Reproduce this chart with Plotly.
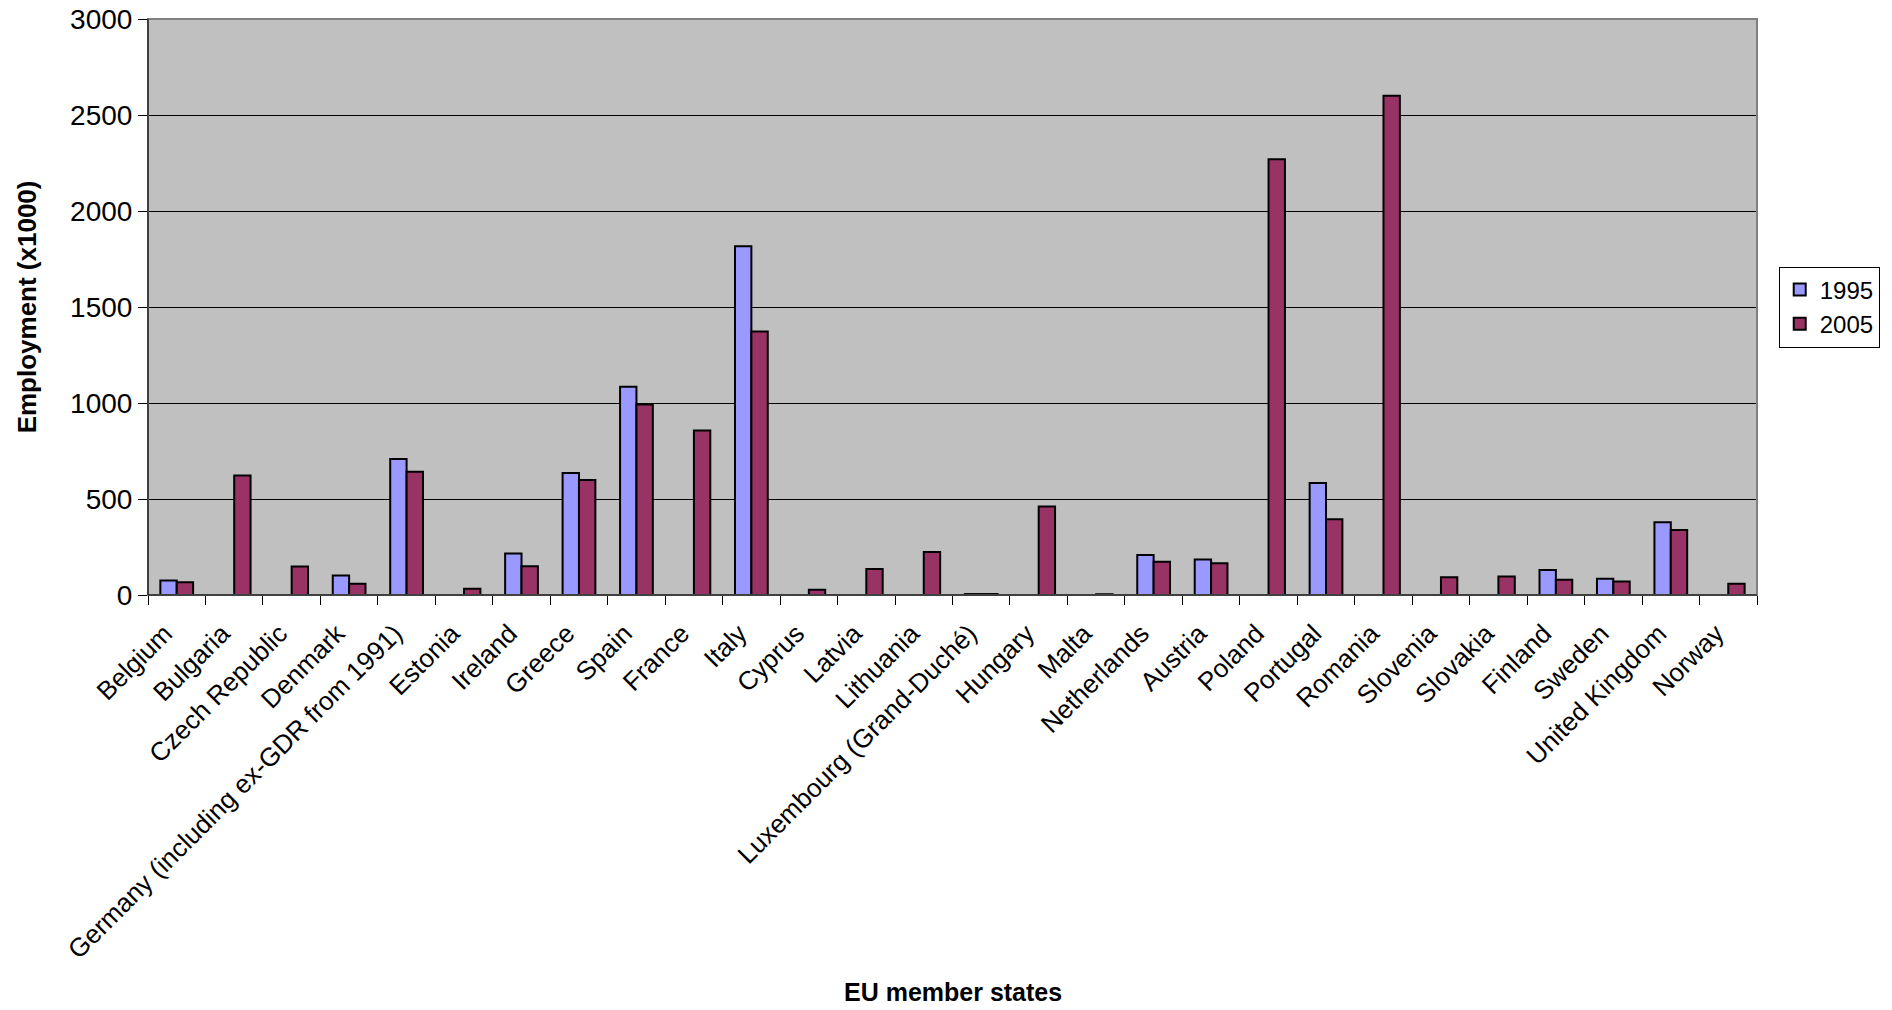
import plotly.graph_objects as go

countries = ["Belgium", "Bulgaria", "Czech Republic", "Denmark",
             "Germany (including ex-GDR from 1991)", "Estonia", "Ireland", "Greece",
             "Spain", "France", "Italy", "Cyprus", "Latvia", "Lithuania",
             "Luxembourg (Grand-Duché)", "Hungary", "Malta", "Netherlands", "Austria",
             "Poland", "Portugal", "Romania", "Slovenia", "Slovakia", "Finland",
             "Sweden", "United Kingdom", "Norway"]

emp_1995 = [76, None, None, 101, 708, None, 216, 636, 1085, None, 1816, None, None, None,
            5, None, None, 208, 185, None, 583, None, None, None, 130, 85, 379, None]
emp_2005 = [66, 622, 148, 58, 642, 33, 150, 599, 992, 857, 1373, 27, 136, 224,
            5, 461, 4, 173, 165, 2269, 395, 2600, 93, 97, 80, 70, 338, 58]

y_ticks = [0, 500, 1000, 1500, 2000, 2500, 3000]

fig = go.Figure()
fig.add_trace(go.Bar(x=countries, y=emp_1995, name="1995",
                     marker=dict(color="#9999FF", line=dict(color="black", width=2))))
fig.add_trace(go.Bar(x=countries, y=emp_2005, name="2005",
                     marker=dict(color="#993366", line=dict(color="black", width=2))))

fig.update_layout(
    width=1892, height=1010,
    margin=dict(l=148, r=129, t=19, b=415),
    paper_bgcolor="white", plot_bgcolor="#C0C0C0",
    barmode="group", bargap=0.43, bargroupgap=0,
    font=dict(family="Arial, Liberation Sans, sans-serif", color="black", size=26),
    legend=dict(x=1.0135, y=0.5, xanchor="left", yanchor="middle",
                bordercolor="black", borderwidth=1, bgcolor="white",
                font=dict(size=24), itemsizing="constant", tracegroupgap=0,
                itemwidth=30),
    showlegend=True,
    annotations=[
        dict(text="<b>EU member states</b>", xref="paper", yref="paper",
             x=0.5, y=(595 - 992) / 576, xanchor="center", yanchor="middle",
             showarrow=False, font=dict(size=25)),
        dict(text="<b>Employment (x1000)</b>", xref="paper", yref="paper",
             x=(27 - 148) / 1614, y=0.5, xanchor="center", yanchor="middle",
             textangle=-90, showarrow=False, font=dict(size=26)),
    ],
)
fig.update_xaxes(
    type="category", tickangle=-45, tickson="boundaries",
    ticks="outside", ticklen=9, tickcolor="black",
    showline=True, linecolor="black", linewidth=1,
    showgrid=False, tickfont=dict(size=26),
    ticklabelstandoff=12, ticklabelshift=-12,
    automargin=False,
)
fig.update_yaxes(
    range=[0, 3000], tickvals=y_ticks, ticks="outside", ticklen=9, tickcolor="black",
    showline=True, linecolor="black", linewidth=1,
    showgrid=True, gridcolor="black", gridwidth=1, zeroline=False,
    tickfont=dict(size=28),
    automargin=False,
)
fig.add_shape(type="rect", xref="paper", yref="paper", x0=0, x1=1, y0=0, y1=1,
              line=dict(color="#808080", width=2), layer="above")
fig.add_shape(type="line", xref="paper", yref="paper", x0=0, x1=1, y0=0, y1=0,
              line=dict(color="black", width=1), layer="above")
fig.add_shape(type="line", xref="paper", yref="paper", x0=0, x1=0, y0=0, y1=1,
              line=dict(color="black", width=1), layer="above")

fig.write_html("out.html")
